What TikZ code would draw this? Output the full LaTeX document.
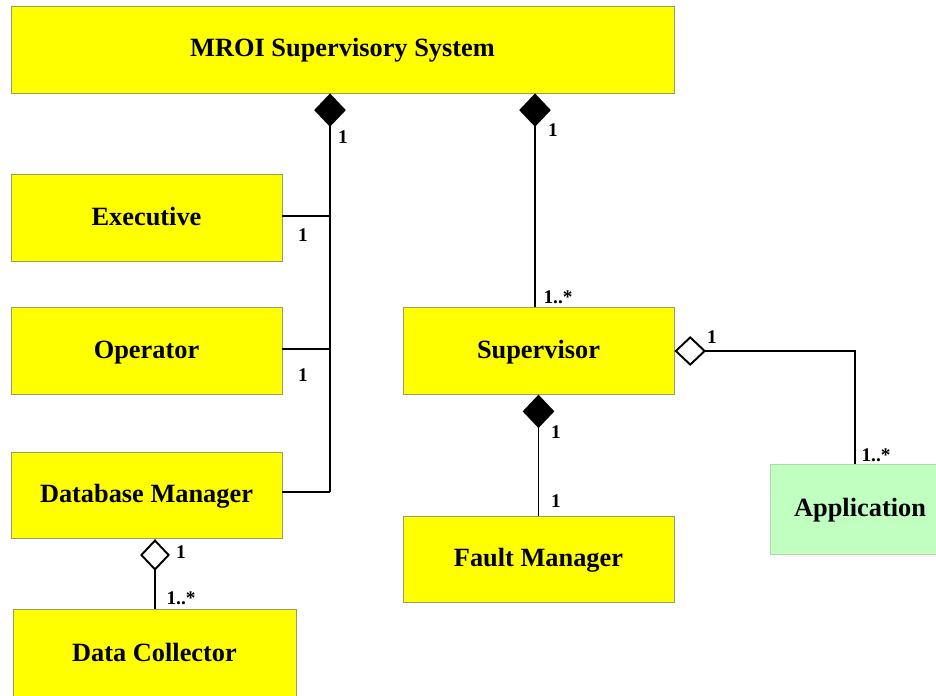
\documentclass[tikz,border=0pt]{standalone}
\usepackage{fontspec}
\setmainfont{Liberation Serif}
\usepackage{xcolor}
\usetikzlibrary{arrows.meta, positioning}
\definecolor{classfill}{HTML}{FFFF00}
\definecolor{appfill}{HTML}{C0FFC0}
\definecolor{classline}{HTML}{9A9A6A}

\begin{document}
\begin{tikzpicture}[
  x=0.02cm, y=-0.02cm,
  cls/.style={draw=classline, fill=classfill, line width=0.5pt, inner sep=0pt, minimum width=5.42cm, minimum height=1.73cm, align=center, font=\fontsize{15}{18}\selectfont\bfseries, text depth=0pt, text height=8pt},
  appcls/.style={cls, fill=appfill, draw=appfill!70!gray, minimum width=3.32cm, minimum height=1.8cm},
  link/.style={line width=1.1pt, black},
  compo/.style={link, -{Diamond[length=19pt, width=18pt]}},
  aggr/.style={link, -{Diamond[open, length=18pt, width=17pt, line width=1.1pt]}},
  mult/.style={font=\fontsize{11}{13}\selectfont\bfseries, inner sep=1pt},
]
\useasboundingbox (0,0) rectangle (936,696);

\node[cls, minimum width=13.26cm, minimum height=1.74cm] (mroi) at (342.5,49.5) {MROI Supervisory System};
\node[cls] (exec) at (146.5,218) {Executive};
\node[cls] (oper) at (146.5,351) {Operator};
\node[cls] (dbm) at (146.5,495.5) {Database Manager};
\node[cls, minimum width=5.66cm, minimum height=1.82cm] (dcol) at (154.5,654.5) {Data Collector};
\node[cls] (sup) at (538.5,351) {Supervisor};
\node[cls] (fmgr) at (538.5,559.5) {Fault Manager};
\node[appcls] (app) at (853,509) {\hspace*{8pt}Application};

% trunk from the left-hand classes up to the system
\coordinate (trunk) at (330,492);
\draw[compo] (trunk) -- (trunk |- mroi.south);
\foreach \c/\y in {exec/216, oper/349, dbm/492}
  \draw[link] (\c.east |- 0,\y) -- (trunk |- 0,\y);

\coordinate (supin) at (535,0);
\draw[compo] (sup.north -| supin) -- (mroi.south -| supin);
\draw[compo] (fmgr.north) -- (sup.south);
\coordinate (dbmout) at (155,0);
\draw[aggr] (dcol.north -| dbmout) -- (dbm.south -| dbmout);

\coordinate (bend) at (855,351);
\draw[aggr] (app.north -| bend) -- (bend) -- (sup.east);

% multiplicities
\node[mult] (m1) at (343,137) {1};
\node[mult] (m2) at (303,235) {1};
\node[mult] (m3) at (303,375) {1};
\node[mult] (m4) at (553,130) {1};
\node[mult] (m5) at (558,297) {1..*};
\node[mult] (m6) at (712,337) {1};
\node[mult] (m7) at (876,455) {1..*};
\node[mult] (m8) at (556,432) {1};
\node[mult] (m9) at (556,501) {1};
\node[mult] (m10) at (181,552) {1};
\node[mult] (m11) at (181,598) {1..*};
\end{tikzpicture}
\end{document}
